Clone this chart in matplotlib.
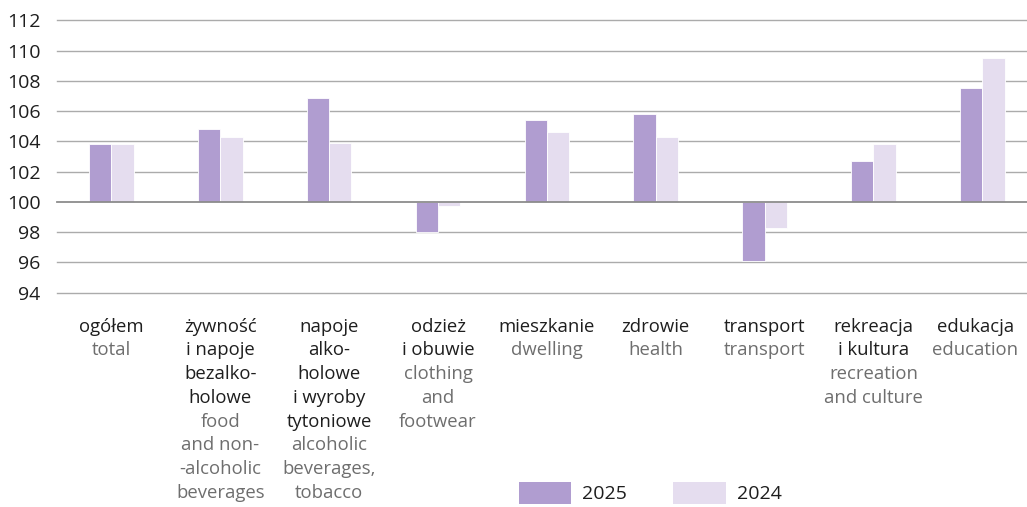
import numpy as np
import matplotlib.pyplot as plt
from matplotlib.patches import Patch

plt.rcParams['font.family'] = ['Open Sans', 'DejaVu Sans']

# Price indices (previous year = 100)
labels_pl = [
    ["ogółem"],
    ["żywność", "i napoje", "bezalko-", "holowe"],
    ["napoje", "alko-", "holowe", "i wyroby", "tytoniowe"],
    ["odzież", "i obuwie"],
    ["mieszkanie"],
    ["zdrowie"],
    ["transport"],
    ["rekreacja", "i kultura"],
    ["edukacja"],
]
labels_en = [
    ["total"],
    ["food", "and non-", "-alcoholic", "beverages"],
    ["alcoholic", "beverages,", "tobacco"],
    ["clothing", "and", "footwear"],
    ["dwelling"],
    ["health"],
    ["transport"],
    ["recreation", "and culture"],
    ["education"],
]
values_2025 = [103.8, 104.8, 106.9, 98.0, 105.4, 105.8, 96.1, 102.7, 107.5]
values_2024 = [103.8, 104.3, 103.9, 99.7, 104.6, 104.3, 98.3, 103.8, 109.5]
yticks = np.arange(94, 113, 2)

c2025 = "#b09dd0"
c2024 = "#e5ddef"
dark = "#1e1e1e"
grey = "#6e6e6e"

fig = plt.figure(figsize=(10.27, 5.07), dpi=100)
ax = fig.add_axes([0.0555, 0.423, 0.9445, 0.5366])

x = np.arange(len(values_2025))
w = 0.205
base = 100
ax.bar(x - w / 2, np.array(values_2025) - base, w, bottom=base,
       color=c2025, edgecolor="white", linewidth=0.6, zorder=3)
ax.bar(x + w / 2, np.array(values_2024) - base, w, bottom=base,
       color=c2024, edgecolor="white", linewidth=0.6, zorder=3)

ax.set_ylim(94, 112)
ax.set_xlim(-0.5, 8.41)
ax.set_yticks(yticks)
ax.set_yticklabels([str(t) for t in yticks], fontsize=14, color=dark)
ax.tick_params(axis="y", length=0, pad=12)
ax.set_xticks([])
for s in ax.spines.values():
    s.set_visible(False)
for t in yticks:
    ax.axhline(t, color="#8c8c8c" if t == 100 else "#ababab",
               linewidth=1.3 if t == 100 else 1.0,
               zorder=4 if t == 100 else 1, clip_on=False)

# Two-colour category labels: Polish lines in dark, English lines in grey
first = 28.2
step = 17.1
for i in x:
    dx = -5 if i == x[-1] else 0
    lines = [(s, dark) for s in labels_pl[i]] + [(s, grey) for s in labels_en[i]]
    for k, (s, col) in enumerate(lines):
        ax.annotate(s, xy=(i, 0), xycoords=("data", "axes fraction"),
                    xytext=(dx, -first - k * step), textcoords="offset points",
                    ha="center", va="baseline", fontsize=13.3, color=col,
                    annotation_clip=False)

handles = [Patch(facecolor=c2025, label="2025"), Patch(facecolor=c2024, label="2024")]
fig.legend(handles=handles, loc="lower left", bbox_to_anchor=(0.488, -0.028),
           ncol=2, frameon=False, fontsize=14, handlelength=2.7,
           handleheight=1.35, handletextpad=0.55, columnspacing=2.4,
           labelcolor=dark)

fig.savefig("out.png", dpi=100)
